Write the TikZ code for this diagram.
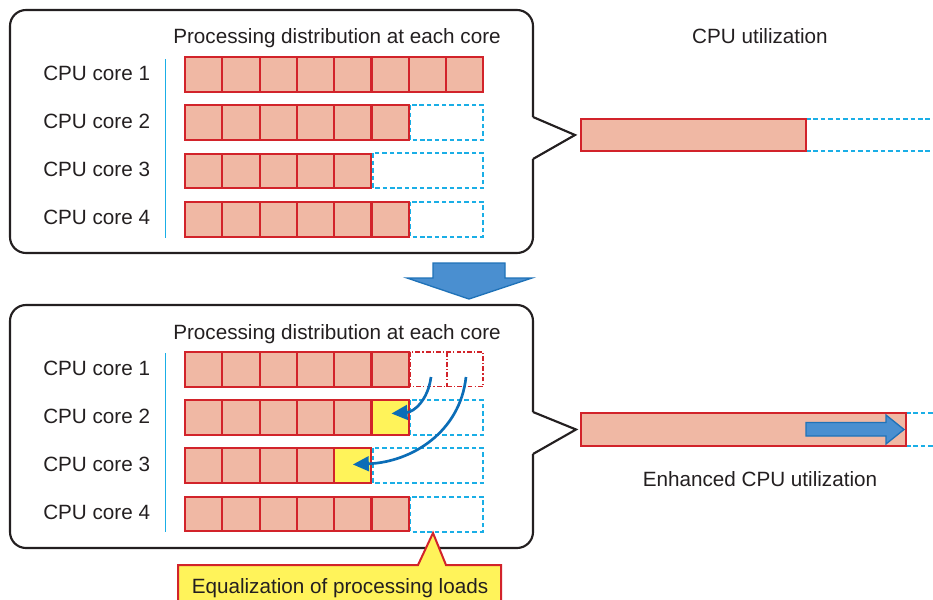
\documentclass[tikz,border=0pt]{standalone}
\usepackage{fontspec}
\setmainfont{Liberation Sans}
\usetikzlibrary{arrows.meta}
\definecolor{txt}{HTML}{231F20}
\definecolor{cellred}{HTML}{D2232A}
\definecolor{salmon}{HTML}{F0B8A4}
\definecolor{cyanl}{HTML}{1AAEE6}
\definecolor{yell}{HTML}{FFF35A}
\definecolor{arrblue}{HTML}{0B6DB7}
\definecolor{bigfill}{HTML}{4A8FD0}
\definecolor{bigedge}{HTML}{1F72B8}
\tikzset{
  lbl/.style={font=\fontsize{15.5}{18}\selectfont, text=txt, inner sep=0pt, anchor=base},
  cell/.style={rectangle, draw=cellred, fill=salmon, line width=1.5pt, minimum width=27.9pt, minimum height=26pt, inner sep=0pt, outer sep=0pt},
  ycell/.style={cell, fill=yell},
  dashbox/.style={draw=cyanl, line width=1.5pt, dash pattern=on 3.4pt off 2.2pt},
  dotbox/.style={draw=cellred, line width=1.3pt, dash pattern=on 3.6pt off 1.6pt on 0.9pt off 1.6pt},
  frame/.style={draw=txt, line width=1.6pt},
  vline/.style={draw=cyanl, line width=1pt},
  bar/.style={draw=cellred, fill=salmon, line width=1.6pt},
  bigarrow/.style={fill=bigfill, draw=bigedge, line width=1pt},
  movearrow/.style={draw=arrblue, line width=2pt, -{Triangle[length=12pt,width=11pt]}},
  callout/.style={fill=yell, draw=cellred, line width=1.5pt, line join=miter}
}
\begin{document}
\begin{tikzpicture}[x=0.75pt,y=-0.75pt]
\useasboundingbox (0,0) rectangle (933,600);
\clip (0,0) rectangle (933,600);

% ---------- top panel ----------
\draw[frame, rounded corners=12pt] (533,159) -- (533,253) -- (10,253) -- (10,10) -- (533,10) -- (533,117);
\draw[frame, line join=miter] (533,117) -- (575,135) -- (533,159);

\node[lbl] (ttitle) at (337,43) {Processing distribution at each core};
\draw[vline] (165.5,59) -- (165.5,238);

\draw[dashbox] (410,105.1) rectangle (483,139.9);
\draw[dashbox] (372.5,153.4) rectangle (483,188.2);
\draw[dashbox] (410,201.8) rectangle (483,236.6);

\foreach \n [count=\r] in {8,6,5,6} {
  \node[lbl, anchor=base west] (tl\r) at (43,{80+48.3*(\r-1)}) {CPU core \r};
  \foreach \i in {1,...,\n} {
    \node[cell] (t\r-\i) at ({185+37.3*(\i-0.5)},{74.3+48.3*(\r-1)}) {};
  }
}

% top bar
\node[lbl] (tutil) at (760,43.3) {CPU utilization};
\draw[dashbox] (806,119) -- (933,119);
\draw[dashbox] (806,151) -- (933,151);
\node[bar, minimum width=168.75pt, minimum height=24pt, inner sep=0pt] (tbar) at (693.5,135) {};

% big down arrow
\draw[bigarrow] (433,263) -- (505,263) -- (505,278) -- (532,278) -- (469,299) -- (407,278) -- (433,278) -- cycle;

% ---------- bottom panel ----------
\draw[frame, rounded corners=12pt] (533,454) -- (533,548) -- (10,548) -- (10,305) -- (533,305) -- (533,412);
\draw[frame, line join=miter] (533,412) -- (576,429.5) -- (533,454);

\node[lbl] (btitle) at (337,339) {Processing distribution at each core};
\draw[vline] (165.5,353) -- (165.5,532);

\draw[dotbox] (410,351.8) rectangle (483,386.6);
\draw[dotbox] (447,351.8) -- (447,386.6);
\draw[dashbox] (410,400.1) rectangle (483,434.9);
\draw[dashbox] (372.5,448.4) rectangle (483,483.2);
\draw[dashbox] (410,496.8) rectangle (483,531.6);

\foreach \n [count=\r] in {6,5,4,6} {
  \node[lbl, anchor=base west] (bl\r) at (43,{375+48.3*(\r-1)}) {CPU core \r};
  \foreach \i in {1,...,\n} {
    \node[cell] (b\r-\i) at ({185+37.3*(\i-0.5)},{369.2+48.3*(\r-1)}) {};
  }
}
\node[ycell] (b2-6) at ({185+37.3*5.5},{369.2+48.3}) {};
\node[ycell] (b3-5) at ({185+37.3*4.5},{369.2+48.3*2}) {};

% moving arrows
\coordinate (s1) at (431,377);
\coordinate (s2) at (466,377);
\draw[movearrow] (s1) .. controls (428,400) and (414,412) .. ([xshift=1pt,yshift=3pt]b2-6.center);
\draw[movearrow] (s2) .. controls (460,432) and (412,462) .. ([yshift=1pt]b3-5.center);

% bottom bar
\draw[dashbox] (906,413) -- (933,413);
\draw[dashbox] (906,446) -- (933,446);
\node[bar, minimum width=243.75pt, minimum height=24.75pt, inner sep=0pt] (bbar) at (743.5,429.5) {};
\draw[bigarrow] (806,422.5) -- (886,422.5) -- (886,415) -- (904,429.5) -- (886,444) -- (886,436) -- (806,436) -- cycle;
\node[lbl] (butil) at (760,486.7) {Enhanced CPU utilization};

% equalization callout
\draw[callout] (178,565) -- (418,565) -- (433,533) -- (446,565) -- (501,565) -- (501,612) -- (178,612) -- cycle;
\node[lbl] (eq) at (340,593.3) {Equalization of processing loads};
\end{tikzpicture}
\end{document}
